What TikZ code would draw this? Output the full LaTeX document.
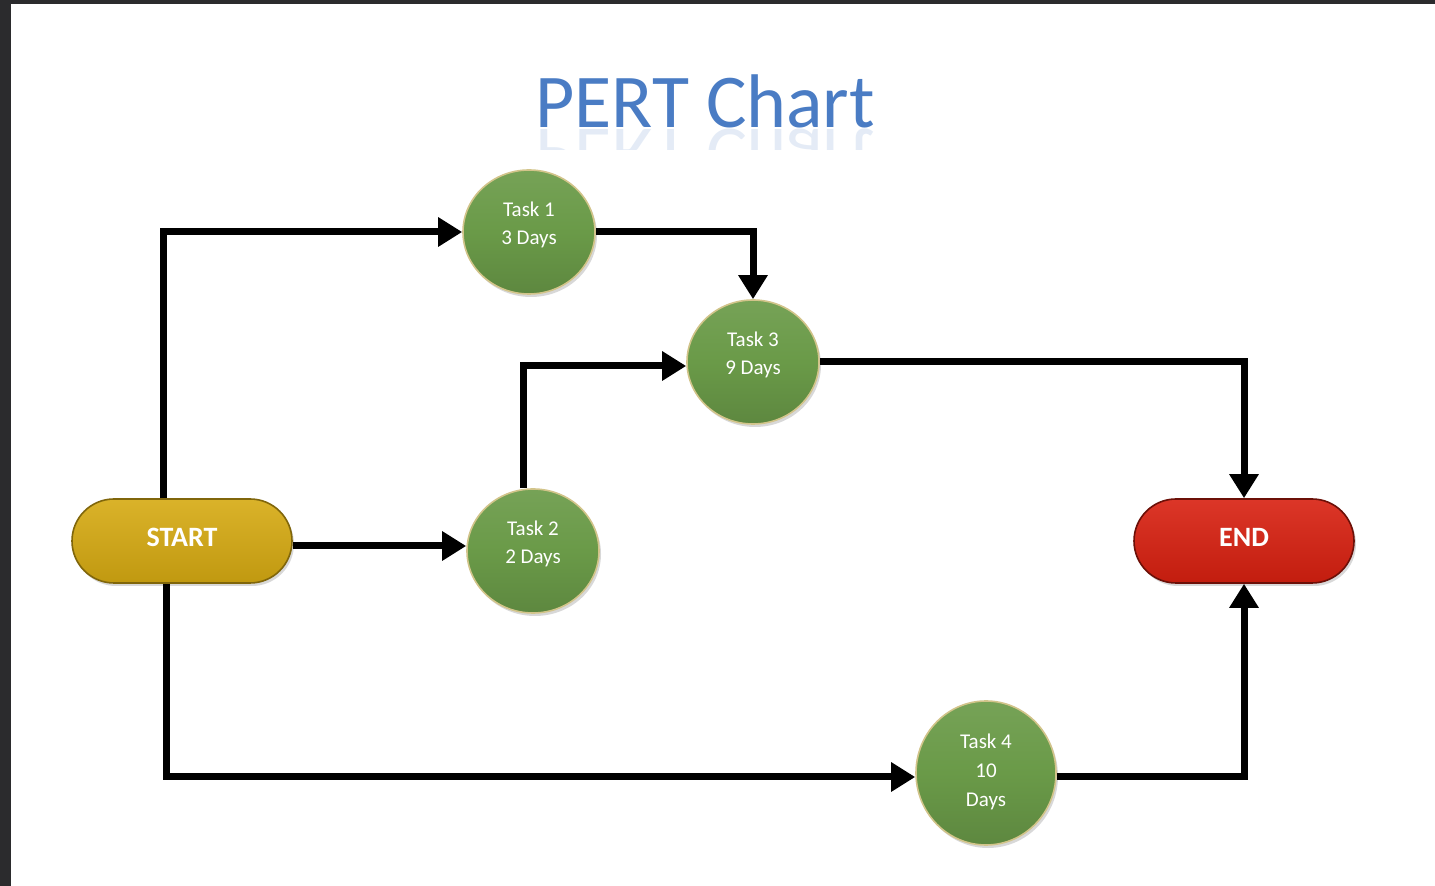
\documentclass[tikz,border=0pt]{standalone}
\usepackage{fontspec}
\setmainfont{Carlito}
\usetikzlibrary{arrows.meta,shapes.geometric,shapes.misc,shadows}
\definecolor{frame}{HTML}{2B2B2D}
\definecolor{titleblue}{HTML}{4A7CC4}
\definecolor{taskgreen}{HTML}{6A9A48}
\definecolor{taskrim}{HTML}{D2C48A}
\definecolor{startgold}{HTML}{D6AA12}
\definecolor{endred}{HTML}{D82010}
\tikzset{
  task/.style={ellipse, inner sep=0pt, minimum width=66pt, minimum height=62pt,
    top color=taskgreen!92!white, bottom color=taskgreen!88!black, middle color=taskgreen,
    draw=taskrim, line width=0.8pt,
    drop shadow={shadow xshift=1pt, shadow yshift=-1.5pt, opacity=0.3}},
  tasklbl/.style={align=center, text=white, font=\fontsize{10.5}{14}\selectfont, yshift=3.5pt},
  pill/.style={rounded rectangle, inner sep=0pt, minimum width=110pt, minimum height=42pt,
    line width=0.8pt, text=white, font=\fontsize{14}{16}\selectfont\bfseries,
    drop shadow={shadow xshift=1pt, shadow yshift=-1.5pt, opacity=0.3}},
  pilllbl/.style={text=white, font=\fontsize{14}{16}\selectfont\bfseries, yshift=2pt},
  conn/.style={line width=3.5pt, -{Triangle[length=12pt,width=14pt]}, line join=miter}
}
\begin{document}
\begin{tikzpicture}[x=0.5pt,y=-0.5pt]
\useasboundingbox (0,0) rectangle (1435,886);
\fill[white] (0,0) rectangle (1435,886);
\fill[frame] (0,0) rectangle (11,886);
\fill[frame] (0,0) rectangle (1435,4);
% title
\node[anchor=base, text=titleblue, font=\fontsize{38}{40}\selectfont] (title) at (705,128) {PERT Chart};
\begin{scope}
\clip (500,128) rectangle (900,150);
\node[anchor=base, yscale=-1, text=titleblue, opacity=0.15, font=\fontsize{38}{40}\selectfont] (titlerefl) at (705,130) {PERT Chart};
\end{scope}
% nodes
\node[task, label={[tasklbl]center:Task 1\\3 Days}] (t1) at (529,232) {};
\node[task, label={[tasklbl]center:Task 3\\9 Days}] (t3) at (753,362) {};
\node[task, label={[tasklbl]center:Task 2\\2 Days}] (t2) at (533,551) {};
\node[task, minimum width=70pt, minimum height=72pt, label={[tasklbl, font=\fontsize{10.5}{14.5}\selectfont, yshift=-3pt]center:Task 4\\10\\Days}] (t4) at (986,773) {};
\node[pill, top color=startgold!90!white, middle color=startgold, bottom color=startgold!90!black, draw=startgold!60!black, label={[pilllbl]center:START}] (start) at (182,541) {};
\node[pill, top color=endred!90!white, middle color=endred, bottom color=endred!90!black, draw=endred!50!black, label={[pilllbl]center:END}] (end) at (1244,541) {};
% guide coordinates
\coordinate (c1) at (163,0);
\coordinate (c2) at (166,0);
\coordinate (c3) at (523,0);
\coordinate (c4) at (0,777);
\coordinate (c5) at (0,546);
\coordinate (c6) at (0,366);
% connectors
\draw[conn] (start.north -| c1) |- (t1.west);
\draw[conn] (start.east |- c5) -- (t2.west |- c5);
\draw[conn] (start.south -| c2) |- (t4.west |- c4);
\draw[conn] (t1.east) -| (t3.north);
\draw[conn] (t2.north -| c3) |- (t3.west |- c6);
\draw[conn] (t3.east) -| (end.north);
\draw[conn] (t4.east |- c4) -| (end.south);
\end{tikzpicture}
\end{document}
